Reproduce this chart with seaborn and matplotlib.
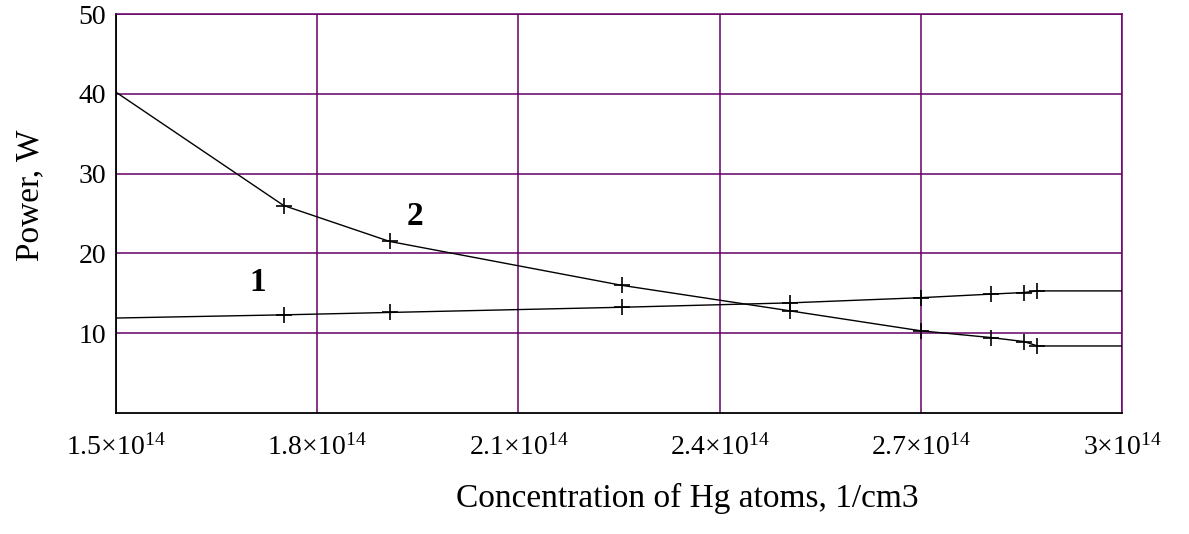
import matplotlib
matplotlib.use("Agg")
import matplotlib.pyplot as plt
import seaborn as sns
import pandas as pd

# ---- data ----
conc = [1.5e14, 1.75e14, 1.908e14, 2.254e14, 2.505e14, 2.70e14, 2.805e14, 2.854e14, 2.874e14, 3.0e14]
power_1 = [11.9, 12.3, 12.6, 13.25, 13.8, 14.45, 14.9, 15.1, 15.3, 15.3]
power_2 = [40.2, 26.0, 21.5, 16.0, 12.8, 10.3, 9.45, 8.95, 8.4, 8.4]
curve_labels = ["1", "2"]
label_pos = [(1.712e14, 16.3), (1.946e14, 24.6)]
x_ticks = [1.5e14, 1.8e14, 2.1e14, 2.4e14, 2.7e14, 3.0e14]
x_ticklabels = ["1.5\u00d710$^{14}$", "1.8\u00d710$^{14}$", "2.1\u00d710$^{14}$",
                "2.4\u00d710$^{14}$", "2.7\u00d710$^{14}$", "3\u00d710$^{14}$"]
y_ticks = [10, 20, 30, 40, 50]

sns.set_style("white")
plt.rcParams["font.family"] = ["Liberation Serif", "DejaVu Serif"]
plt.rcParams["mathtext.default"] = "regular"
for k in ["text.color", "axes.labelcolor", "xtick.color", "ytick.color"]:
    plt.rcParams[k] = "black"

purple = "#660066"

fig = plt.figure(figsize=(11.89, 5.34), dpi=100)
ax = fig.add_axes([116 / 1189, 1 - 413 / 534, 1006 / 1189, 399 / 534])

df = pd.DataFrame({"conc": conc + conc,
                   "power": power_1 + power_2,
                   "curve": ["1"] * len(conc) + ["2"] * len(conc)})

for c in curve_labels:
    sub = df[df["curve"] == c]
    sns.lineplot(data=sub, x="conc", y="power", ax=ax, color="black",
                 linewidth=1.0, marker="+", markersize=11, markeredgewidth=1.2,
                 markeredgecolor="black", markerfacecolor="black",
                 markevery=list(range(1, len(conc) - 1)), sort=False,
                 estimator=None, zorder=5)

ax.set_xlim(1.5e14, 3.0e14)
ax.set_ylim(0, 50)
ax.set_xticks(x_ticks)
ax.set_xticklabels(x_ticklabels, fontsize=20)
ax.set_yticks(y_ticks)
ax.set_yticklabels([str(v) for v in y_ticks], fontsize=20)

ax.grid(True, color=purple, linewidth=1.1, zorder=1)
ax.set_axisbelow(True)

for s in ["left", "bottom"]:
    ax.spines[s].set_color("black")
    ax.spines[s].set_linewidth(1.3)
for s in ["top", "right"]:
    ax.spines[s].set_color(purple)
    ax.spines[s].set_linewidth(1.1)

ax.tick_params(axis="x", direction="out", length=5, width=1.2, color="black",
               labelcolor="black", pad=10)
ax.tick_params(axis="y", direction="out", length=6, width=1.2, color="black",
               labelcolor="black", pad=1)

ax.set_xlabel("Concentration of Hg atoms, 1/cm3", fontsize=24, color="black")
ax.set_ylabel("Power, W", fontsize=24, color="black")
ax.xaxis.set_label_coords(0.5676, -0.175)
ax.yaxis.set_label_coords(-0.07, 0.546)

for lab, (lx, ly) in zip(curve_labels, label_pos):
    ax.text(lx, ly, lab, fontsize=24, fontweight="bold", ha="center", va="center",
            color="black")

fig.savefig("out.png", dpi=100)
